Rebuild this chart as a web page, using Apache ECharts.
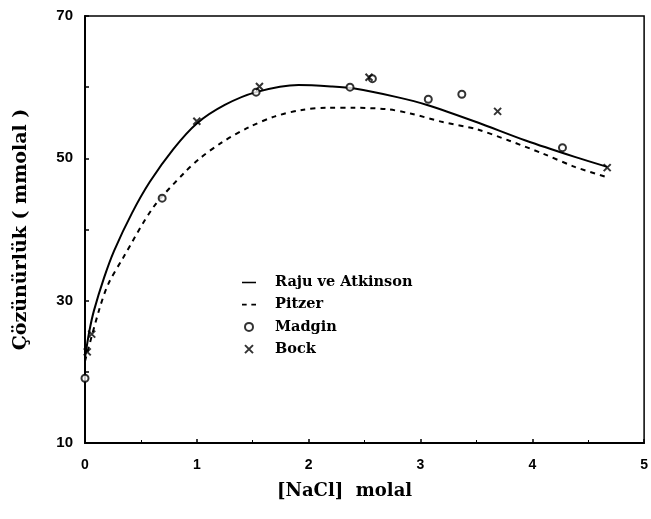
<!DOCTYPE html>
<html>
<head>
<meta charset="utf-8">
<script src="https://cdn.jsdelivr.net/npm/echarts@6/dist/echarts.min.js"></script>
<style>
  html, body { margin: 0; padding: 0; background: #fff; }
  #chart { width: 651px; height: 519px; }
</style>
</head>
<body>
<div id="chart"></div>
<script>
// NaCl molality (x) vs solubility in mmolal (y)
const rajuX = [0, 0.04, 0.08, 0.17, 0.26, 0.42, 0.58, 0.79, 1.0, 1.25, 1.53, 1.91, 2.2, 2.41, 2.79, 3.06, 3.5, 3.94, 4.38, 4.67];
const rajuY = [22, 25.8, 28.6, 33.2, 37, 42.3, 46.7, 51.3, 54.9, 57.5, 59.3, 60.3, 60.1, 59.8, 58.6, 57.5, 55.1, 52.5, 50.2, 48.8];

const pitzerX = [0, 0.13, 0.21, 0.34, 0.61, 0.89, 1.02, 1.23, 1.47, 1.70, 1.94, 2.17, 2.41, 2.70, 2.91, 3.20, 3.50, 3.79, 4.09, 4.38, 4.66];
const pitzerY = [21.5, 28.9, 32.4, 36, 43.1, 48.0, 49.9, 52.3, 54.4, 55.9, 56.8, 57.1, 57.1, 56.9, 56.3, 55.1, 54.1, 52.5, 50.7, 48.8, 47.4];

const madginX = [0, 0.69, 1.53, 2.37, 2.57, 3.07, 3.37, 4.27];
const madginY = [19.1, 44.4, 59.3, 60.0, 61.2, 58.3, 59.0, 51.5];

const bockX = [0.02, 0.06, 1.0, 1.56, 2.54, 3.69, 4.67];
const bockY = [22.8, 25.3, 55.2, 60.1, 61.4, 56.6, 48.7];

const xTicks = [0, 1, 2, 3, 4, 5];
const yTicks = [10, 30, 50, 70];

const pairs = (xs, ys) => xs.map((x, i) => [x, ys[i]]);

const serif = '"DejaVu Serif", "Liberation Serif", serif';
const sans = '"Liberation Sans", Arial, sans-serif';

// legend glyphs: a solid stroke, a dashed stroke, an open circle and a cross
const iconSolid = 'path://M0,0h20v2.2h-20z';
const iconDashed = 'path://M0,0h6v2.2h-6zM12,0h6v2.2h-6z';
const iconCross = 'path://M0,0L10,10M10,0L0,10';

const chart = echarts.init(document.getElementById('chart'), null, { renderer: 'canvas' });

chart.setOption({
  backgroundColor: '#ffffff',
  animation: false,
  grid: {
    left: 85, right: 1, top: 16, bottom: 76,
    show: true, borderColor: '#000', borderWidth: 1.5, backgroundColor: 'transparent'
  },
  legend: {
    orient: 'vertical',
    left: 237, top: 270,
    itemWidth: 14, itemHeight: 8, itemGap: 7.2,
    textStyle: { fontFamily: serif, fontWeight: 'bold', fontSize: 14.5, color: '#000', padding: [0, 0, 0, 14] },
    data: [
      { name: 'Raju ve Atkinson', icon: iconSolid, itemStyle: { color: '#000', borderWidth: 0 } },
      { name: 'Pitzer', icon: iconDashed, itemStyle: { color: '#000', borderWidth: 0 } },
      { name: 'Madgin', icon: 'circle', itemStyle: { color: '#fff', borderColor: '#000', borderWidth: 2 } },
      { name: 'Bock', icon: iconCross, itemStyle: { color: 'none', borderColor: '#000', borderWidth: 2 } }
    ]
  },
  xAxis: {
    type: 'value',
    min: xTicks[0], max: xTicks[xTicks.length - 1], interval: 1,
    name: '[NaCl]  molal',
    nameLocation: 'middle', nameGap: 39,
    nameTextStyle: { fontFamily: serif, fontWeight: 'bold', fontSize: 18, color: '#000', padding: [0, 40, 0, 0] },
    axisLine: { lineStyle: { color: '#000', width: 2 } },
    axisTick: { inside: true, length: 4, lineStyle: { color: '#000', width: 1.5 } },
    minorTick: { show: true, splitNumber: 2, length: 3, lineStyle: { color: '#000', width: 1 } },
    splitLine: { show: false },
    axisLabel: { margin: 15, fontFamily: sans, fontSize: 14, color: '#000', fontWeight: 'bold',
      formatter: v => xTicks.includes(v) ? String(v) : '' }
  },
  yAxis: {
    type: 'value',
    min: yTicks[0], max: yTicks[yTicks.length - 1], interval: 20,
    name: 'Çözünürlük ( mmolal )',
    nameLocation: 'middle', nameGap: 54,
    nameTextStyle: { fontFamily: serif, fontWeight: 'bold', fontSize: 19, color: '#000' },
    axisLine: { lineStyle: { color: '#000', width: 2 } },
    axisTick: { inside: true, length: 4, lineStyle: { color: '#000', width: 1.5 } },
    minorTick: { show: true, splitNumber: 2, length: 4, lineStyle: { color: '#000', width: 1.5 } },
    splitLine: { show: false },
    axisLabel: { margin: 12, fontFamily: sans, fontSize: 15, color: '#000', fontWeight: 'bold',
      formatter: v => yTicks.includes(v) ? String(v) : '' }
  },
  series: [
    {
      name: 'Raju ve Atkinson', type: 'line', smooth: 0.3, symbol: 'none',
      data: pairs(rajuX, rajuY),
      lineStyle: { color: '#000', width: 2 },
      itemStyle: { color: '#000' },
      z: 3
    },
    {
      name: 'Pitzer', type: 'line', smooth: 0.3, symbol: 'none',
      data: pairs(pitzerX, pitzerY),
      lineStyle: { color: '#000', width: 2, type: [5, 5] },
      itemStyle: { color: '#000' },
      z: 3
    },
    {
      name: 'Madgin', type: 'scatter',
      data: pairs(madginX, madginY),
      symbol: 'circle', symbolSize: 7,
      itemStyle: { color: '#fff', borderColor: '#000', borderWidth: 2 },
      z: 4
    },
    {
      name: 'Bock', type: 'scatter',
      data: pairs(bockX, bockY),
      symbol: iconCross, symbolSize: 7,
      itemStyle: { color: 'none', borderColor: '#000', borderWidth: 2 },
      z: 4
    }
  ]
});
</script>
</body>
</html>
